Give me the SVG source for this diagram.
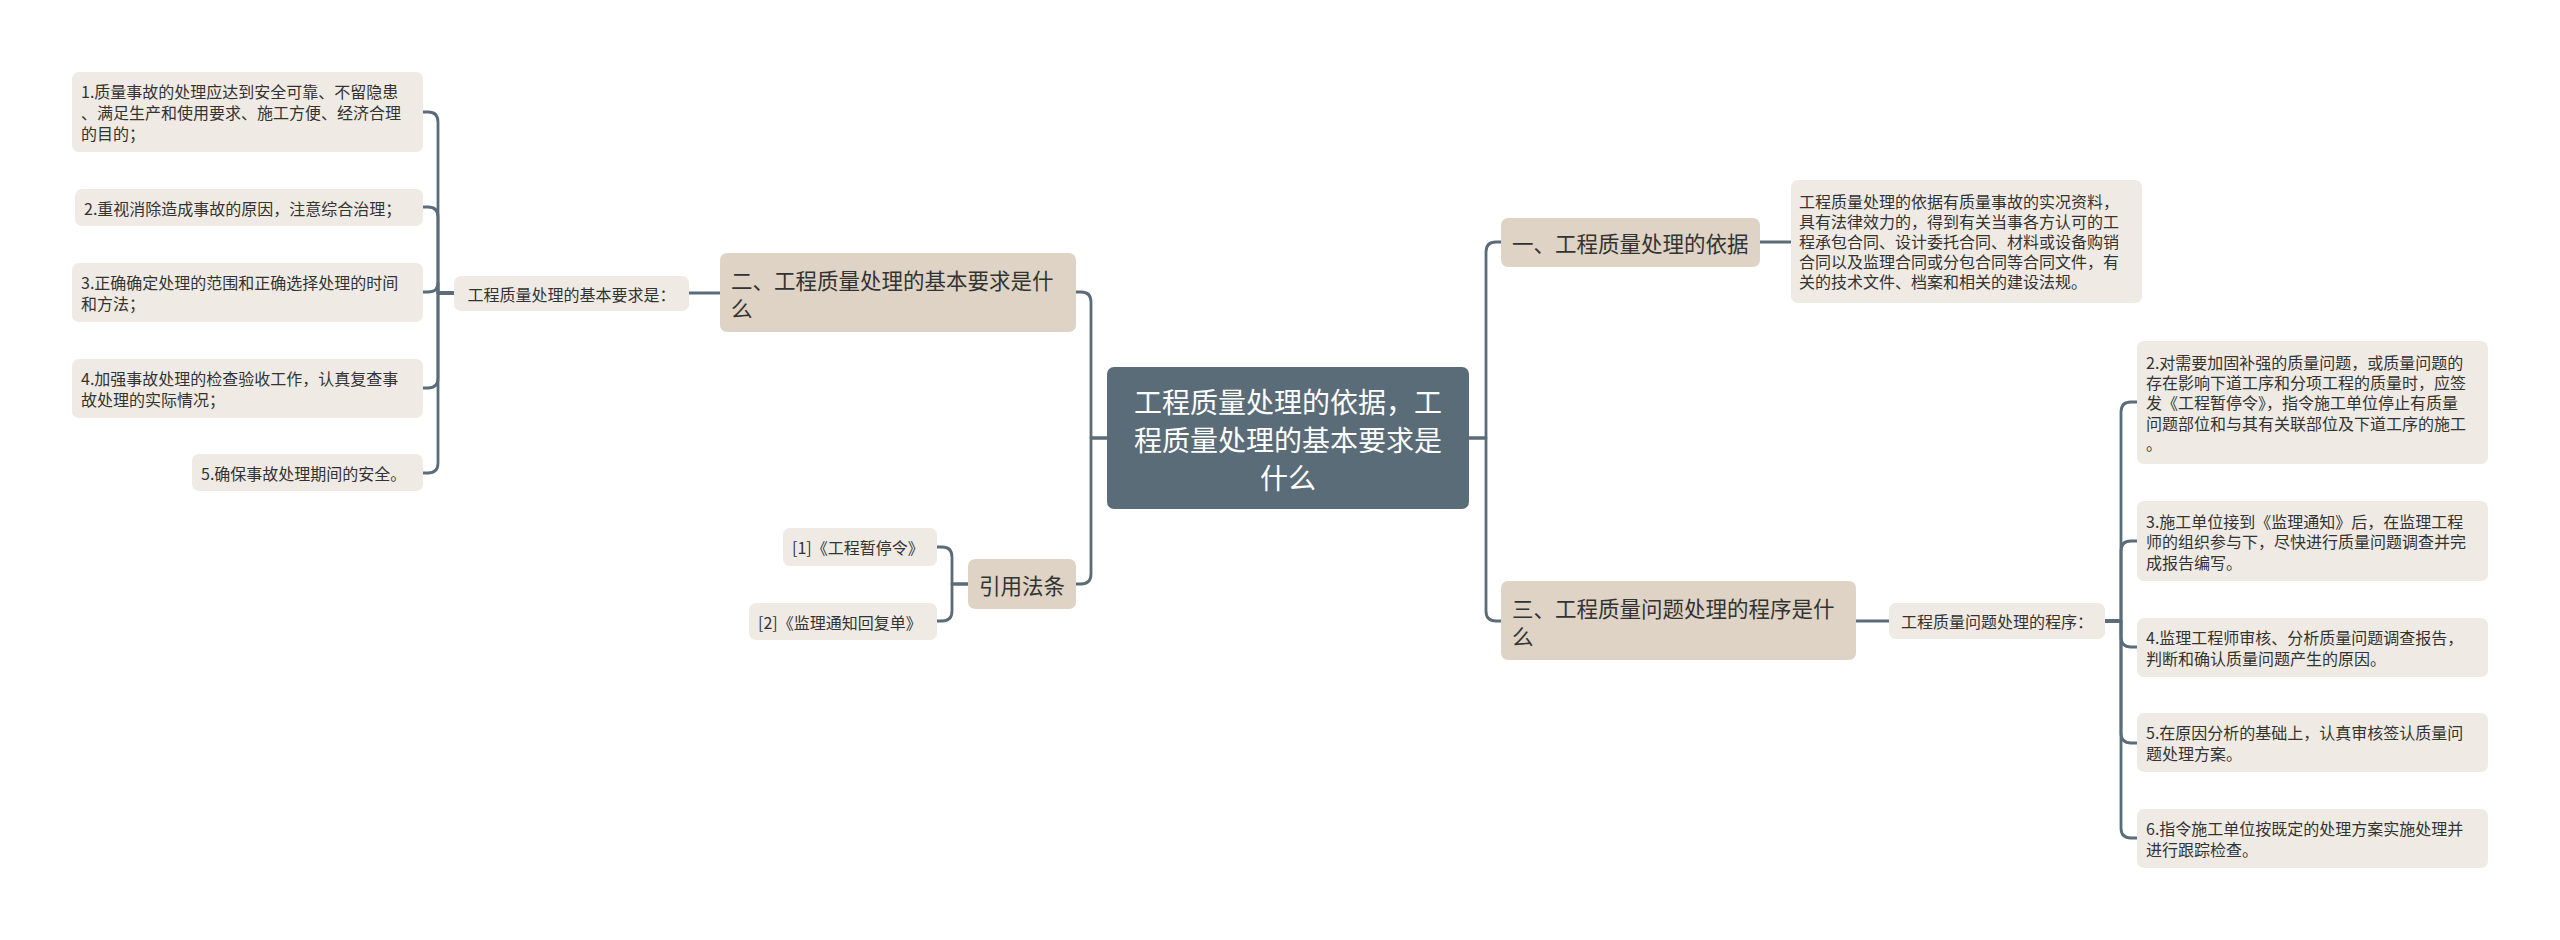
<svg xmlns="http://www.w3.org/2000/svg" width="2560" height="940" viewBox="0 0 2560 940">
<style>
.bg{fill:#ffffff}
.root{fill:#5b6c79}
.l1{fill:#ded3c4}
.leaf{fill:#efebe4}
text{font-family:"Noto Sans CJK SC","Noto Sans",sans-serif;dominant-baseline:central}
.tr{fill:#ffffff;font-size:28px;text-anchor:middle}
.t1{fill:#333333;font-size:21.5px}
.t2{fill:#333333;font-size:16px}
.mid{text-anchor:middle}
.c{fill:none;stroke:#5b6c79;stroke-width:2.8;stroke-linecap:round;stroke-linejoin:round}
</style>
<rect class="bg" x="0" y="0" width="2560" height="940"/>
<g id="connectors">
<path class="c" d="M1107 438 H1091 V302 Q1091 292 1081 292 H1076"/>
<path class="c" d="M1107 438 H1091 V574 Q1091 584 1081 584 H1076"/>
<path class="c" d="M1469 438 H1486 V252 Q1486 242 1496 242 H1501"/>
<path class="c" d="M1469 438 H1486 V611 Q1486 621 1496 621 H1501"/>
<path class="c" d="M720 293 H689"/>
<path class="c" d="M454 293 H438 V122 Q438 112 428 112 H423"/>
<path class="c" d="M454 293 H438 V217 Q438 207 428 207 H423"/>
<path class="c" d="M454 293 H438 V283 Q438 292 428 292 H423"/>
<path class="c" d="M454 293 H438 V378 Q438 388 428 388 H423"/>
<path class="c" d="M454 293 H438 V463 Q438 473 428 473 H423"/>
<path class="c" d="M968 584 H952 V557 Q952 547 942 547 H937"/>
<path class="c" d="M968 584 H952 V611 Q952 621 942 621 H937"/>
<path class="c" d="M1760 242 H1791"/>
<path class="c" d="M1856 621 H1889"/>
<path class="c" d="M2105 621 H2121 V412 Q2121 402 2131 402 H2137"/>
<path class="c" d="M2105 621 H2121 V551 Q2121 541 2131 541 H2137"/>
<path class="c" d="M2105 621 H2121 V637 Q2121 647 2131 647 H2137"/>
<path class="c" d="M2105 621 H2121 V733 Q2121 743 2131 743 H2137"/>
<path class="c" d="M2105 621 H2121 V828 Q2121 838 2131 838 H2137"/>
</g>
<g id="root">
<rect class="root" x="1107" y="367" width="362" height="142" rx="7"/>
<text class="tr" x="1288" y="401">工程质量处理的依据，工</text>
<text class="tr" x="1288" y="439">程质量处理的基本要求是</text>
<text class="tr" x="1288" y="477">什么</text>
</g>
<g id="n-yaoqiu">
<rect class="l1" x="720" y="253" width="356" height="79" rx="7"/>
<text class="t1" x="731" y="279">二、工程质量处理的基本要求是什</text>
<text class="t1" x="731" y="307">么</text>
</g>
<g id="n-yaoqiu-label">
<rect class="leaf" x="454" y="276" width="235" height="35" rx="7"/>
<text class="t2 mid" x="571.5" y="293.5">工程质量处理的基本要求是：</text>
</g>
<g id="n-l1">
<rect class="leaf" x="72" y="72" width="351" height="80" rx="7"/>
<text class="t2" x="81" y="91">1.质量事故的处理应达到安全可靠、不留隐患</text>
<text class="t2" x="81" y="112">、满足生产和使用要求、施工方便、经济合理</text>
<text class="t2" x="81" y="133">的目的；</text>
</g>
<g id="n-l2">
<rect class="leaf" x="75" y="189" width="348" height="37" rx="7"/>
<text class="t2" x="84" y="207.5">2.重视消除造成事故的原因，注意综合治理；</text>
</g>
<g id="n-l3">
<rect class="leaf" x="72" y="263" width="351" height="59" rx="7"/>
<text class="t2" x="81" y="282">3.正确确定处理的范围和正确选择处理的时间</text>
<text class="t2" x="81" y="303">和方法；</text>
</g>
<g id="n-l4">
<rect class="leaf" x="72" y="359" width="351" height="59" rx="7"/>
<text class="t2" x="81" y="378">4.加强事故处理的检查验收工作，认真复查事</text>
<text class="t2" x="81" y="399">故处理的实际情况；</text>
</g>
<g id="n-l5">
<rect class="leaf" x="192" y="454" width="231" height="37" rx="7"/>
<text class="t2" x="201" y="472.5">5.确保事故处理期间的安全。</text>
</g>
<g id="n-yinyong">
<rect class="l1" x="968" y="559" width="108" height="50" rx="7"/>
<text class="t1 mid" x="1022" y="584">引用法条</text>
</g>
<g id="n-ref1">
<rect class="leaf" x="783" y="528" width="154" height="38" rx="7"/>
<text class="t2" x="792" y="547">[1]《工程暂停令》</text>
</g>
<g id="n-ref2">
<rect class="leaf" x="749" y="603" width="188" height="37" rx="7"/>
<text class="t2" x="758" y="621.5">[2]《监理通知回复单》</text>
</g>
<g id="n-yiju">
<rect class="l1" x="1501" y="218" width="259" height="49" rx="7"/>
<text class="t1" x="1512" y="242">一、工程质量处理的依据</text>
</g>
<g id="n-yiju-text">
<rect class="leaf" x="1791" y="180" width="351" height="123" rx="7"/>
<text class="t2" x="1799" y="201">工程质量处理的依据有质量事故的实况资料，</text>
<text class="t2" x="1799" y="221">具有法律效力的，得到有关当事各方认可的工</text>
<text class="t2" x="1799" y="241">程承包合同、设计委托合同、材料或设备购销</text>
<text class="t2" x="1799" y="261">合同以及监理合同或分包合同等合同文件，有</text>
<text class="t2" x="1799" y="281">关的技术文件、档案和相关的建设法规。</text>
</g>
<g id="n-chengxu">
<rect class="l1" x="1501" y="581" width="355" height="79" rx="7"/>
<text class="t1" x="1512" y="607">三、工程质量问题处理的程序是什</text>
<text class="t1" x="1512" y="635">么</text>
</g>
<g id="n-chengxu-label">
<rect class="leaf" x="1889" y="603" width="216" height="36" rx="7"/>
<text class="t2 mid" x="1997" y="621">工程质量问题处理的程序：</text>
</g>
<g id="n-r2">
<rect class="leaf" x="2137" y="341" width="351" height="123" rx="7"/>
<text class="t2" x="2146" y="362">2.对需要加固补强的质量问题，或质量问题的</text>
<text class="t2" x="2146" y="382">存在影响下道工序和分项工程的质量时，应签</text>
<text class="t2" x="2146" y="402">发《工程暂停令》，指令施工单位停止有质量</text>
<text class="t2" x="2146" y="423">问题部位和与其有关联部位及下道工序的施工</text>
<text class="t2" x="2146" y="443">。</text>
</g>
<g id="n-r3">
<rect class="leaf" x="2137" y="501" width="351" height="80" rx="7"/>
<text class="t2" x="2146" y="521">3.施工单位接到《监理通知》后，在监理工程</text>
<text class="t2" x="2146" y="541">师的组织参与下，尽快进行质量问题调查并完</text>
<text class="t2" x="2146" y="562">成报告编写。</text>
</g>
<g id="n-r4">
<rect class="leaf" x="2137" y="618" width="351" height="59" rx="7"/>
<text class="t2" x="2146" y="637">4.监理工程师审核、分析质量问题调查报告，</text>
<text class="t2" x="2146" y="658">判断和确认质量问题产生的原因。</text>
</g>
<g id="n-r5">
<rect class="leaf" x="2137" y="713" width="351" height="59" rx="7"/>
<text class="t2" x="2146" y="732">5.在原因分析的基础上，认真审核签认质量问</text>
<text class="t2" x="2146" y="753">题处理方案。</text>
</g>
<g id="n-r6">
<rect class="leaf" x="2137" y="809" width="351" height="59" rx="7"/>
<text class="t2" x="2146" y="828">6.指令施工单位按既定的处理方案实施处理并</text>
<text class="t2" x="2146" y="849">进行跟踪检查。</text>
</g>
</svg>
